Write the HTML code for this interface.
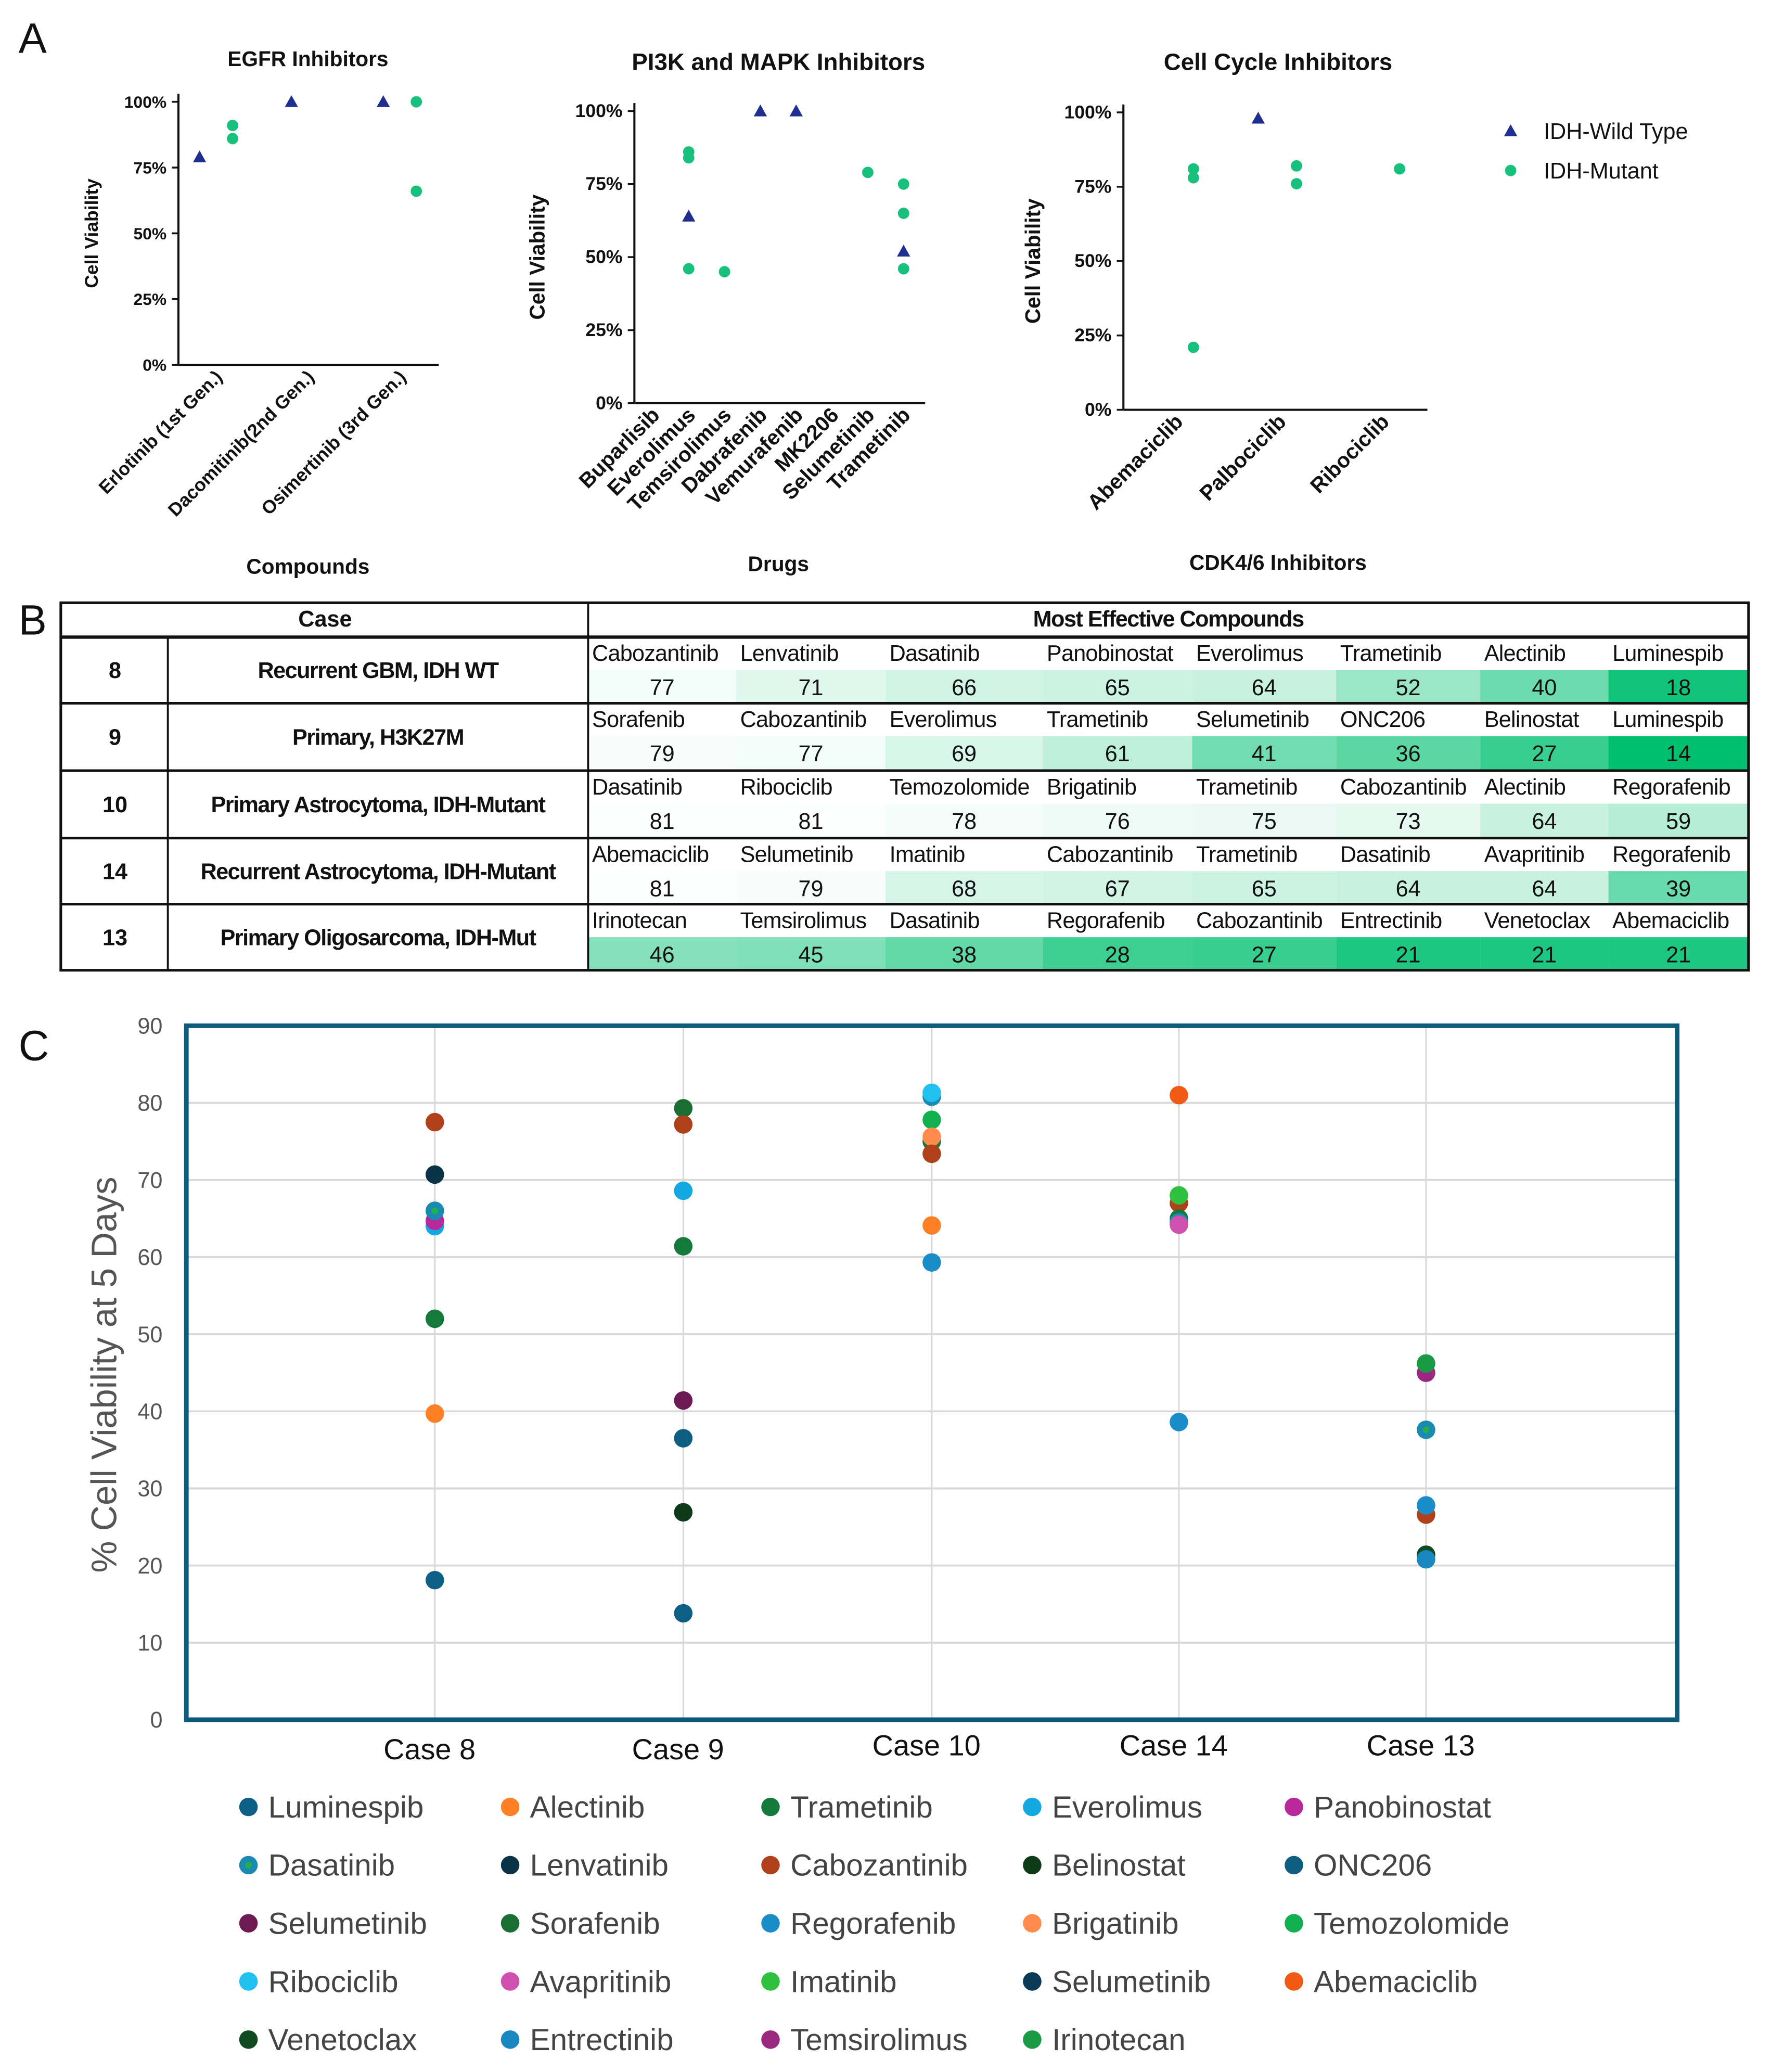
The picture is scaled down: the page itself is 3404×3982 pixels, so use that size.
<!DOCTYPE html>
<html><head><meta charset="utf-8"><style>
html,body{margin:0;padding:0;background:#fff}
svg{display:block}
.n{font-family:"Liberation Sans Narrow","Liberation Sans",sans-serif}
.s{font-family:"Liberation Sans",sans-serif}
</style></head><body>
<svg id="fig" width="3404" height="3982" viewBox="0 0 1340 1567.5" xmlns="http://www.w3.org/2000/svg">
<g id="gA"></g>
<g id="gB"></g>
<g id="gC"></g>
</svg>
<script>
// ---------- Panel A data ----------
const egfrCats = ["Erlotinib (1st Gen.)","Dacomitinib(2nd Gen.)","Osimertinib (3rd Gen.)"];
const egfrWT = [[0,79],[1,100],[2,100]];
const egfrMut = [[0,91],[0,86],[2,100],[2,66]];
const pikCats = ["Buparlisib","Everolimus","Temsirolimus","Dabrafenib","Vemurafenib","MK2206","Selumetinib","Trametinib"];
const pikWT = [[1,64],[3,100],[4,100],[7,52]];
const pikMut = [[1,84],[1,86],[1,46],[2,45],[6,79],[7,75],[7,65],[7,46]];
const ccCats = ["Abemaciclib","Palbociclib","Ribociclib"];
const ccWT = [[1,98]];
const ccMut = [[0,81],[0,78],[0,21],[1,82],[1,76],[2,81]];
const pctTicks = ["0%","25%","50%","75%","100%"];

// ---------- Panel B data ----------
const tblCaseNums = ["8","9","10","14","13"];
const tblCaseNames = ["Recurrent GBM, IDH WT","Primary, H3K27M","Primary Astrocytoma, IDH-Mutant","Recurrent Astrocytoma, IDH-Mutant","Primary Oligosarcoma, IDH-Mut"];
const tblDrugs = [
 ["Cabozantinib","Lenvatinib","Dasatinib","Panobinostat","Everolimus","Trametinib","Alectinib","Luminespib"],
 ["Sorafenib","Cabozantinib","Everolimus","Trametinib","Selumetinib","ONC206","Belinostat","Luminespib"],
 ["Dasatinib","Ribociclib","Temozolomide","Brigatinib","Trametinib","Cabozantinib","Alectinib","Regorafenib"],
 ["Abemaciclib","Selumetinib","Imatinib","Cabozantinib","Trametinib","Dasatinib","Avapritinib","Regorafenib"],
 ["Irinotecan","Temsirolimus","Dasatinib","Regorafenib","Cabozantinib","Entrectinib","Venetoclax","Abemaciclib"]];
const tblVals = [[77,71,66,65,64,52,40,18],[79,77,69,61,41,36,27,14],[81,81,78,76,75,73,64,59],[81,79,68,67,65,64,64,39],[46,45,38,28,27,21,21,21]];

// ---------- Panel C data ----------
const caseLabels = ["Case 8","Case 9","Case 10","Case 14","Case 13"];
const yTickLabels = ["0","10","20","30","40","50","60","70","80","90"];
const case8Drugs = ["Cabozantinib","Lenvatinib","Everolimus","Panobinostat","Dasatinib","Trametinib","Alectinib","Luminespib"];
const case8Vals = [77.5,70.7,64,64.7,66,52,39.7,18.1];
const case9Drugs = ["Sorafenib","Cabozantinib","Everolimus","Trametinib","Selumetinib","ONC206","Belinostat","Luminespib"];
const case9Vals = [79.3,77.2,68.6,61.4,41.4,36.5,26.9,13.8];
const case10Drugs = ["Dasatinib","Ribociclib","Temozolomide","Trametinib","Brigatinib","Cabozantinib","Alectinib","Regorafenib"];
const case10Vals = [80.8,81.3,77.8,75,75.6,73.4,64.1,59.3];
const case14Drugs = ["Abemaciclib","Cabozantinib","Imatinib","Trametinib","Dasatinib","Avapritinib","Regorafenib"];
const case14Vals = [81,67,68,65,64.5,64.2,38.6];
const case13Drugs = ["Temsirolimus","Irinotecan","Dasatinib","Cabozantinib","Regorafenib","Venetoclax","Entrectinib"];
const case13Vals = [45,46.2,37.6,26.6,27.8,21.4,20.8];
const legendNames = ["Luminespib","Alectinib","Trametinib","Everolimus","Panobinostat","Dasatinib","Lenvatinib","Cabozantinib","Belinostat","ONC206","Selumetinib","Sorafenib","Regorafenib","Brigatinib","Temozolomide","Ribociclib","Avapritinib","Imatinib","Selumetinib ","Abemaciclib","Venetoclax","Entrectinib","Temsirolimus","Irinotecan"];
const legendColors = ["#0e5f86","#ff7f27","#137a3c","#13a8e0","#b8289a","#1a8ab0","#0a3347","#b0401a","#0d3a18","#0d5e80","#6e1a52","#1a6e34","#1a8cc8","#ff8c4c","#10b050","#20c0f0","#d050b0","#30c040","#0a3a55","#f05a14","#0f4a20","#1a88c0","#9a2880","#1a9a44"];

const NS="http://www.w3.org/2000/svg";
function mk(tag,attrs,parent,txt){const e=document.createElementNS(NS,tag);for(const k in attrs)e.setAttribute(k,attrs[k]);if(txt!==undefined)e.textContent=txt;parent.appendChild(e);return e;}
const gA=document.getElementById('gA'),gB=document.getElementById('gB'),gC=document.getElementById('gC');
const root=document.getElementById('fig');

["A","B","C"].forEach((L,i)=>{const t=mk('text',{x:14,y:[40,480,802][i],'font-size':32,fill:'#111',class:'s'},root,L);

});

// ---------- Panel A ----------
function scatter(cfg){
 const g=mk('g',{},gA);
 
 
 const yS=v=>cfg.y0+(cfg.y100-cfg.y0)*v/100;
 const xS=i=>cfg.cx0+i*cfg.step;
 let t=mk('text',{x:cfg.tx,y:cfg.ty,'font-size':cfg.tfs,'font-weight':'bold','text-anchor':'middle',class:'s',fill:'#111'},g,cfg.title);
 
 
 mk('line',{x1:cfg.ax,y1:cfg.y100-6,x2:cfg.ax,y2:cfg.y0,stroke:'#111','stroke-width':1.6},g);
 mk('line',{x1:cfg.ax,y1:cfg.y0,x2:cfg.ax2,y2:cfg.y0,stroke:'#111','stroke-width':1.6},g);
 pctTicks.forEach((lb,i)=>{const y=yS(i*25);
  mk('line',{x1:cfg.ax-5,y1:y,x2:cfg.ax,y2:y,stroke:'#111','stroke-width':1.4},g);
  const tt=mk('text',{x:cfg.ax-9,y:y+4.5,'font-size':cfg.yfs,'font-weight':'bold','text-anchor':'end',class:'s',fill:'#111'},g,lb);
  
  });
 cfg.cats.forEach((c,i)=>{const x=xS(i);
  const ax=x+6, ay=cfg.y0+10;
  const tt=mk('text',{x:ax,y:ay,'font-size':cfg.xfs,'font-weight':'bold','text-anchor':'end',class:'s',fill:'#111',transform:`rotate(-45 ${ax} ${ay})`},g,c);
  
  });
 t=mk('text',{x:cfg.ylx,y:(cfg.y0+cfg.y100)/2,'font-size':cfg.ylfs,'font-weight':'bold','text-anchor':'middle',class:'s',fill:'#111',transform:`rotate(-90 ${cfg.ylx} ${(cfg.y0+cfg.y100)/2})`},g,'Cell Viability');
 
 
 t=mk('text',{x:cfg.tx,y:cfg.xly,'font-size':16,'font-weight':'bold','text-anchor':'middle',class:'s',fill:'#111'},g,cfg.xlabel);
 
 
 cfg.wt.forEach(p=>{const x=xS(p[0])+cfg.offW,y=yS(p[1]);
  const m=mk('polygon',{points:`${x},${y-5} ${x-5},${y+4} ${x+5},${y+4}`,fill:'#1f2f8f'},g);
  
  });
 cfg.mut.forEach(p=>{const x=xS(p[0])+cfg.offM,y=yS(p[1]);
  const m=mk('circle',{cx:x,cy:y,r:4.3,fill:'#17c07b'},g);
  
  });
}
scatter({name:'egfr-chart',title:'EGFR Inhibitors',tx:233,ty:50,tfs:16,ax:135,ax2:332,y0:276,y100:77,cx0:163,step:69.5,cats:egfrCats,wt:egfrWT,mut:egfrMut,offW:-12,offM:13,yfs:12.5,xfs:14,ylx:74,ylfs:14,xly:434,xlabel:'Compounds'});
scatter({name:'pi3k-mapk-chart',title:'PI3K and MAPK Inhibitors',tx:589,ty:53,tfs:18,ax:480,ax2:700,y0:305,y100:84,cx0:494,step:27.1,cats:pikCats,wt:pikWT,mut:pikMut,offW:0,offM:0,yfs:14,xfs:16,ylx:412,ylfs:16,xly:432,xlabel:'Drugs'});
scatter({name:'cell-cycle-chart',title:'Cell Cycle Inhibitors',tx:967,ty:53,tfs:18,ax:850,ax2:1080,y0:310,y100:85,cx0:890,step:78,cats:ccCats,wt:ccWT,mut:ccMut,offW:-16,offM:13,yfs:14,xfs:16,ylx:787,ylfs:16,xly:431,xlabel:'CDK4/6 Inhibitors'});
{
 const lg=mk('g',{},gA);
 
 
 mk('polygon',{points:'1143,94 1138,103 1148,103',fill:'#1f2f8f'},lg);
 let t=mk('text',{x:1168,y:105,'font-size':17,class:'s',fill:'#111'},lg,'IDH-Wild Type');
 
 
 mk('circle',{cx:1143,cy:129,r:4.3,fill:'#17c07b'},lg);
 t=mk('text',{x:1168,y:135,'font-size':17,class:'s',fill:'#111'},lg,'IDH-Mutant');
 
 
}

// ---------- Panel B ----------
{
 const colX=[445,557,670,789,902,1011,1120,1217,1323];
 const rowY=[482,532,583,634,684,734];
 const heat=v=>{let t=(82-v)/(82-14);t=Math.max(0,Math.min(1,t));
  const a=[255,255,255],b=[0,192,112];
  return `rgb(${a.map((c,i)=>Math.round(c+(b[i]-c)*Math.pow(t,1.15))).join(',')})`;};
 tblVals.forEach((row,r)=>{
  row.forEach((v,c)=>{
   const cell=mk('rect',{x:colX[c],y:rowY[r]+25,width:colX[c+1]-colX[c],height:rowY[r+1]-rowY[r]-25,fill:heat(v)},gB);
   
   
   let t=mk('text',{x:colX[c]+3,y:rowY[r]+18,'font-size':17,class:'n',fill:'#111','letter-spacing':'-0.3'},gB,tblDrugs[r][c]);
   
   
   t=mk('text',{x:(colX[c]+colX[c+1])/2,y:rowY[r]+44,'font-size':17,'text-anchor':'middle',class:'n',fill:'#111'},gB,v);
   
   
  });
  let t=mk('text',{x:87,y:(rowY[r]+rowY[r+1])/2+6,'font-size':17,'font-weight':'bold','text-anchor':'middle',class:'s',fill:'#111'},gB,tblCaseNums[r]);
  
  
  t=mk('text',{x:286,y:(rowY[r]+rowY[r+1])/2+6,'font-size':17,'font-weight':'bold','text-anchor':'middle',class:'n',fill:'#111','letter-spacing':'-0.6'},gB,tblCaseNames[r]);
  
  
 });
 let t=mk('text',{x:246,y:474,'font-size':17,'font-weight':'bold','text-anchor':'middle',class:'n',fill:'#111'},gB,'Case');
 
 
 t=mk('text',{x:884,y:474,'font-size':17,'font-weight':'bold','text-anchor':'middle',class:'n',fill:'#111','letter-spacing':'-0.6'},gB,'Most Effective Compounds');
 
 
 mk('rect',{x:46,y:456,width:1277,height:278,fill:'none',stroke:'#111','stroke-width':2},gB);
 rowY.slice(0,5).forEach(y=>mk('line',{x1:46,y1:y,x2:1323,y2:y,stroke:'#111','stroke-width':y===482?2.5:2},gB));
 mk('line',{x1:445,y1:456,x2:445,y2:734,stroke:'#111','stroke-width':1.5},gB);
 mk('line',{x1:127,y1:482,x2:127,y2:734,stroke:'#111','stroke-width':1.5},gB);
}

// ---------- Panel C ----------
{
 const L=141,R=1269,T=776,B=1301;
 const yS=v=>B-(B-T)*v/90;
 const caseX=[329,517,705,892,1079];
 const colorOf=n=>legendColors[legendNames.indexOf(n)];
 yTickLabels.forEach((lb,i)=>{const y=yS(i*10);
  if(i>0&&i<9)mk('line',{x1:L,y1:y,x2:R,y2:y,stroke:'#d9d9d9','stroke-width':1.5},gC);
  const t=mk('text',{x:123,y:y+6,'font-size':17,'text-anchor':'end',class:'n',fill:'#555'},gC,lb);
  
  });
 caseLabels.forEach((lb,i)=>{
  mk('line',{x1:caseX[i],y1:T,x2:caseX[i],y2:B,stroke:'#d9d9d9','stroke-width':1.2},gC);
  const t=mk('text',{x:caseX[i]-4,y:i>=2?1328:1331,'font-size':22,'text-anchor':'middle',class:'n',fill:'#111'},gC,lb);
  
  });
 const fr=mk('rect',{x:L,y:T,width:R-L,height:B-T,fill:'none',stroke:'#0d5b7b','stroke-width':3.5},gC);
 
 
 let t=mk('text',{x:88,y:1040,'font-size':27,'text-anchor':'middle',class:'s',fill:'#555',transform:'rotate(-90 88 1040)'},gC,'% Cell Viability at 5 Days');
 
 
 const groups=[[case8Drugs,case8Vals],[case9Drugs,case9Vals],[case10Drugs,case10Vals],[case14Drugs,case14Vals],[case13Drugs,case13Vals]];
 groups.forEach((g,i)=>{g[0].forEach((d,j)=>{
  const c=mk('circle',{cx:caseX[i],cy:yS(g[1][j]),r:7,fill:colorOf(d)},gC);
  
  
  if(d==='Dasatinib'){mk('circle',{cx:caseX[i],cy:yS(g[1][j]),r:2.5,fill:'#22b04a'},gC);}
 });});
 legendNames.forEach((n,k)=>{const col=k%5,row=Math.floor(k/5);
  const x=[188,386,583,781,979][col],y=1367+row*44;
  const lg=mk('g',{},gC);
  
  
  mk('circle',{cx:x,cy:y,r:7,fill:legendColors[k]},lg);
  if(n==='Dasatinib')mk('circle',{cx:x,cy:y,r:2.5,fill:'#22b04a'},lg);
  mk('text',{x:x+15,y:y+8,'font-size':23,class:'s',fill:'#444'},lg,n.trim());
 });
}
</script>
</body></html>
